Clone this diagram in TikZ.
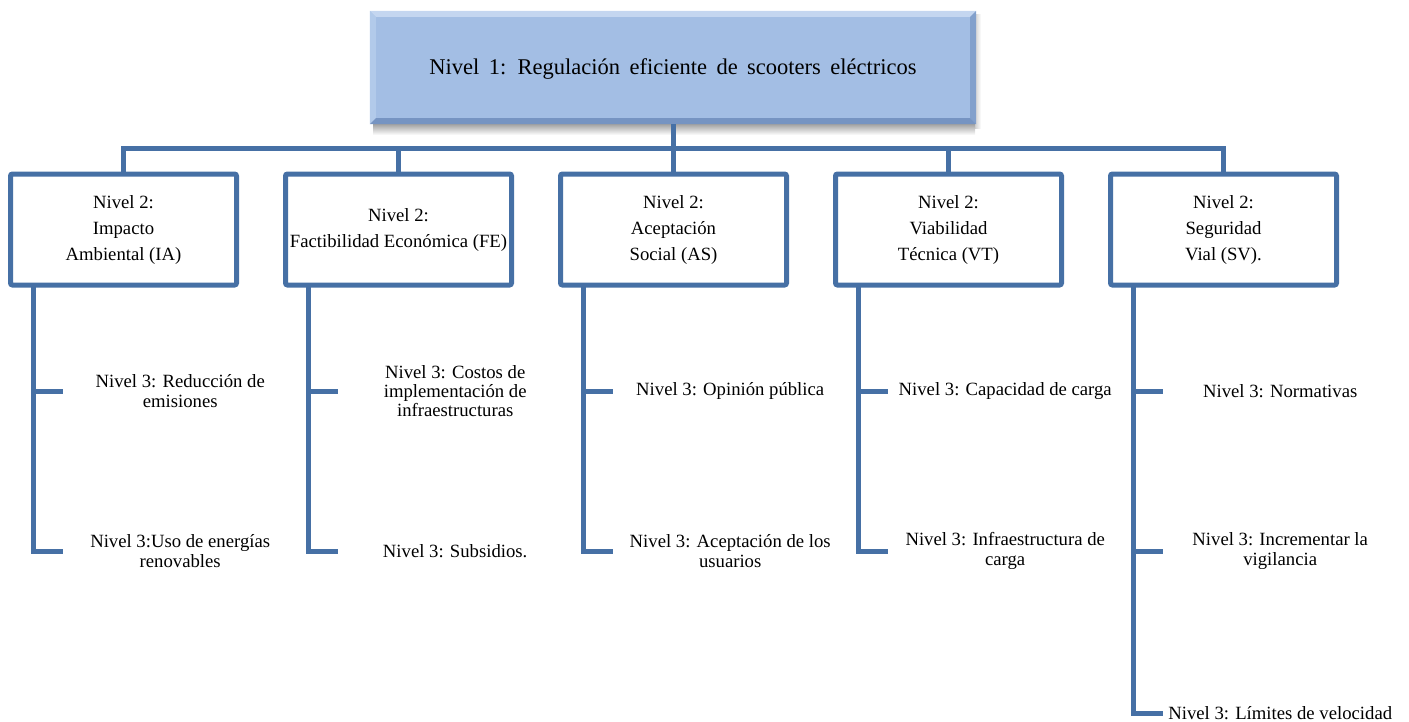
\documentclass[tikz,border=0pt]{standalone}
\usepackage{fontspec}
\setmainfont{Liberation Serif}
\usetikzlibrary{calc}
\definecolor{lnc}{RGB}{70,112,165}
\definecolor{topfill}{RGB}{163,190,228}
\definecolor{bevlight}{RGB}{196,214,240}
\definecolor{bevleft}{RGB}{178,202,234}
\definecolor{bevright}{RGB}{130,160,204}
\definecolor{bevbot}{RGB}{118,148,194}
\newcommand\myonefont{\fontsize{22.5}{26}\selectfont\setlength{\spaceskip}{0.42em}}
\newcommand\mytwofont{\fontsize{18.7}{26}\selectfont}
\newcommand\mythreefont{\fontsize{18.7}{19.3}\selectfont}
\tikzset{
  lvone/.style={fill=topfill, minimum width=606pt, minimum height=113pt, inner sep=0pt},
  lvonetext/.style={font=\myonefont},
  lvtwo/.style={draw=lnc, line width=5pt, rounded corners=2pt, fill=white,
    minimum width=226pt, minimum height=111pt, inner sep=0pt, align=center,
    font=\mytwofont},
  leaf/.style={anchor=west, align=center, minimum width=234pt, inner sep=0pt,
    font=\mythreefont},
  conn/.style={draw=lnc, line width=5pt, line join=miter},
}
\begin{document}
\begin{tikzpicture}[x=1pt,y=-1pt]
\useasboundingbox (0,0) rectangle (1409,721);
% shadow of top box
\shade[top color=black!40, bottom color=white] (373,123) rectangle (975,135);
\shade[left color=black!30, right color=white, opacity=0.6] (975,14) rectangle (981,128);
% top box
\node[lvone] (top) at (673,67.5) {};
\fill[bevlight] (top.north west) -- (top.north east) -- ($(top.north east)+(-6,6)$) -- ($(top.north west)+(6,6)$) -- cycle;
\fill[bevleft] (top.north west) -- ($(top.north west)+(6,6)$) -- ($(top.south west)+(6,-6)$) -- (top.south west) -- cycle;
\fill[bevright] (top.north east) -- ($(top.north east)+(-6,6)$) -- ($(top.south east)+(-6,-6)$) -- (top.south east) -- cycle;
\fill[bevbot] (top.south west) -- ($(top.south west)+(6,-6)$) -- ($(top.south east)+(-6,-6)$) -- (top.south east) -- cycle;
\node[lvonetext] (toptext) at ($(top.center)+(0,1.5)$) {Nivel 1: Regulación eficiente de scooters eléctricos};

% level 2 boxes
\node[lvtwo] (b1) at (123.5,229.5) {Nivel 2:\\Impacto\\Ambiental (IA)};
\node[lvtwo] (b2) at (398.5,229.5) {Nivel 2:\\Factibilidad Económica (FE)};
\node[lvtwo] (b3) at (673.5,229.5) {Nivel 2:\\Aceptación\\Social (AS)};
\node[lvtwo] (b4) at (948.5,229.5) {Nivel 2:\\Viabilidad\\Técnica (VT)};
\node[lvtwo] (b5) at (1223.5,229.5) {Nivel 2:\\Seguridad\\Vial (SV).};

% bus connectors
\foreach \b in {b1,b2,b3,b4,b5}
  \draw[conn] (top.south) -- ++(0,24.5) -| (\b.north);

% trunk coordinates
\foreach \b in {b1,b2,b3,b4,b5}
  \coordinate (t\b) at ($(\b.south)+(-90.5,-2.5)$);

% level 3 leaves
\node[leaf] (l11) at (63,391) {Nivel 3: Reducción de\\emisiones};
\node[leaf] (l12) at (63,551) {Nivel 3:Uso de energías\\renovables};
\node[leaf] (l21) at (338,391) {Nivel 3: Costos de\\implementación de\\infraestructuras};
\node[leaf] (l22) at (338,551) {Nivel 3: Subsidios.};
\node[leaf] (l31) at (613,391) {Nivel 3: Opinión pública};
\node[leaf] (l32) at (613,551) {Nivel 3: Aceptación de los\\usuarios};
\node[leaf] (l41) at (888,391) {Nivel 3: Capacidad de carga};
\node[leaf] (l42) at (888,551) {Nivel 3: Infraestructura de\\carga};
\node[leaf] (l51) at (1163,391) {Nivel 3: Normativas};
\node[leaf] (l52) at (1163,551) {Nivel 3: Incrementar la\\vigilancia};
\node[leaf] (l53) at (1163,713) {Nivel 3: Límites de velocidad};

% trunk + branches
\draw[conn] (tb1) |- (l11.west);
\draw[conn] (tb1) |- (l12.west);
\draw[conn] (tb2) |- (l21.west);
\draw[conn] (tb2) |- (l22.west);
\draw[conn] (tb3) |- (l31.west);
\draw[conn] (tb3) |- (l32.west);
\draw[conn] (tb4) |- (l41.west);
\draw[conn] (tb4) |- (l42.west);
\draw[conn] (tb5) |- (l51.west);
\draw[conn] (tb5) |- (l52.west);
\draw[conn] (tb5) |- (l53.west);
\end{tikzpicture}
\end{document}
